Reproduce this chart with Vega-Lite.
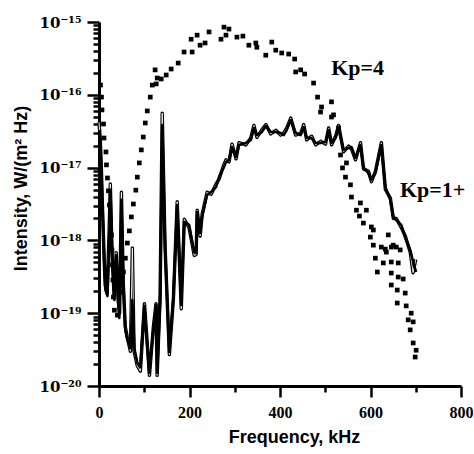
{
  "$schema": "https://vega.github.io/schema/vega-lite/v6.json",
  "width": 362,
  "height": 364,
  "autosize": {"type": "none"},
  "padding": {"left": 99, "top": 22, "right": 13, "bottom": 68},
  "background": "white",
  "datasets": {
    "kp1a": [
      {"f":1,"v":3.28e-17},{"f":3,"v":2.04e-17},{"f":5.5,"v":7.9e-18},{"f":7.7,"v":3.06e-18},{"f":9.9,"v":1.01e-18},{"f":12,"v":4.6e-19},{"f":14.3,"v":2.08e-19},{"f":18.7,"v":1.72e-19},{"f":23,"v":1.3e-18},{"f":25.3,"v":4.9e-18},{"f":29.7,"v":5.05e-19},{"f":34,"v":1.52e-19},{"f":38.5,"v":6.3e-19},{"f":42.9,"v":1.3e-19},{"f":45,"v":8.6e-20},{"f":49.5,"v":3.6e-18},{"f":53.9,"v":2.44e-19},{"f":58.3,"v":5.9e-20},{"f":62.7,"v":4.3e-20},{"f":69.3,"v":3.3e-20},{"f":73.7,"v":1.52e-19},{"f":78.1,"v":3.3e-20},{"f":84.7,"v":2.07e-20},{"f":91.3,"v":1.82e-20},{"f":100,"v":1.26e-19},{"f":111,"v":1.51e-20},{"f":120,"v":5.9e-20},{"f":126.5,"v":1.3e-19},{"f":128.7,"v":1.51e-20},{"f":135.3,"v":1.52e-19},{"f":139.7,"v":3.85e-17},{"f":146.3,"v":7.4e-19},{"f":155.2,"v":2.93e-20},{"f":164,"v":1.52e-19},{"f":172.8,"v":3.06e-18},{"f":181.6,"v":1.3e-19},{"f":188.2,"v":1.79e-18},{"f":199.2,"v":1.63e-18},{"f":210.2,"v":6.9e-19},{"f":214.6,"v":6.8e-19},{"f":216.8,"v":2.45e-18},{"f":223.4,"v":1.26e-18},{"f":227.8,"v":2.1e-18},{"f":238.8,"v":4.2e-18},{"f":247.6,"v":4.6e-18},{"f":258.6,"v":5.4e-18},{"f":265.2,"v":7.4e-18},{"f":276.2,"v":1.02e-17},{"f":280.6,"v":1.19e-17},{"f":287.2,"v":1.27e-17},{"f":293.8,"v":1.92e-17},{"f":302.6,"v":1.4e-17},{"f":309.2,"v":2.04e-17},{"f":324.6,"v":2.18e-17},{"f":335.6,"v":2.4e-17},{"f":342.2,"v":3.5e-17},{"f":348.8,"v":2.8e-17},{"f":359.8,"v":3.08e-17},{"f":368.6,"v":3.72e-17},{"f":379.6,"v":3.08e-17},{"f":390.6,"v":3.08e-17},{"f":401.6,"v":2.99e-17},{"f":408.2,"v":2.8e-17},{"f":414.8,"v":3.28e-17},{"f":423.6,"v":4.5e-17},{"f":434.6,"v":2.99e-17},{"f":445.6,"v":2.8e-17},{"f":452.2,"v":3.6e-17},{"f":458.8,"v":2.55e-17},{"f":469.8,"v":2.55e-17},{"f":478.6,"v":2.18e-17},{"f":489.6,"v":2.18e-17},{"f":500.7,"v":2.25e-17},{"f":507.3,"v":3.28e-17},{"f":513.9,"v":2.18e-17},{"f":522.7,"v":2.55e-17},{"f":529.3,"v":3.5e-17},{"f":540.3,"v":1.75e-17},{"f":551.3,"v":1.86e-17},{"f":557.9,"v":1.92e-17},{"f":566.7,"v":1.36e-17},{"f":577.7,"v":2.04e-17},{"f":584.3,"v":1.02e-17},{"f":595.3,"v":8.4e-18},{"f":601.9,"v":6.8e-18},{"f":610.7,"v":8.4e-18},{"f":623.9,"v":2.04e-17},{"f":632.7,"v":5.4e-18},{"f":643.7,"v":3.6e-18},{"f":650.3,"v":2.1e-18},{"f":656.9,"v":1.9e-18},{"f":667.9,"v":1.63e-18},{"f":676.7,"v":1.08e-18},{"f":687.7,"v":7.4e-19},{"f":696.5,"v":4.45e-19},{"f":700.9,"v":3.68e-19}
    ],
    "kp1b": [
      {"f":0,"v":4.2e-17},{"f":2.5,"v":2.6e-17},{"f":5,"v":1.1e-17},{"f":7.2,"v":3.5e-18},{"f":9.5,"v":1.3e-18},{"f":11.5,"v":5.2e-19},{"f":13.8,"v":2.4e-19},{"f":18,"v":1.9e-19},{"f":22.5,"v":1.4e-18},{"f":25,"v":5.96e-18},{"f":29,"v":6.0e-19},{"f":33.5,"v":1.7e-19},{"f":38,"v":6.8e-19},{"f":42.5,"v":1.45e-19},{"f":45.5,"v":1.0e-19},{"f":49.5,"v":4.6e-18},{"f":53.5,"v":2.7e-19},{"f":58,"v":6.5e-20},{"f":62.5,"v":4.7e-20},{"f":69.5,"v":3.0e-20},{"f":73.7,"v":7.9e-19},{"f":77.5,"v":3.0e-20},{"f":84.5,"v":1.9e-20},{"f":91.5,"v":1.6e-20},{"f":100.5,"v":1.35e-19},{"f":111.5,"v":1.4e-20},{"f":120,"v":6.3e-20},{"f":126,"v":1.35e-19},{"f":128.5,"v":1.4e-20},{"f":135,"v":1.7e-19},{"f":139.7,"v":5.6e-17},{"f":146,"v":8.2e-19},{"f":155.5,"v":2.7e-20},{"f":164.5,"v":1.6e-19},{"f":172.8,"v":3.4e-18},{"f":181.8,"v":1.15e-19},{"f":188.5,"v":1.95e-18},{"f":199,"v":1.5e-18},{"f":210.5,"v":6.2e-19},{"f":214.6,"v":6.4e-19},{"f":217,"v":2.6e-18},{"f":223.6,"v":1.15e-18},{"f":228,"v":2.3e-18},{"f":239,"v":4.6e-18},{"f":247.8,"v":4.3e-18},{"f":258.4,"v":5.9e-18},{"f":265.5,"v":7.0e-18},{"f":276,"v":1.1e-17},{"f":280.8,"v":1.28e-17},{"f":287.5,"v":1.2e-17},{"f":294,"v":2.1e-17},{"f":302.8,"v":1.32e-17},{"f":309.5,"v":2.2e-17},{"f":324.4,"v":2.05e-17},{"f":335.4,"v":2.55e-17},{"f":342.4,"v":3.8e-17},{"f":349,"v":2.6e-17},{"f":360,"v":3.3e-17},{"f":368.8,"v":3.9e-17},{"f":379.4,"v":2.9e-17},{"f":390.8,"v":3.25e-17},{"f":401.4,"v":2.8e-17},{"f":408.4,"v":3.0e-17},{"f":415,"v":3.5e-17},{"f":423.8,"v":4.8e-17},{"f":434.4,"v":2.8e-17},{"f":445.8,"v":2.95e-17},{"f":452.4,"v":3.9e-17},{"f":459,"v":2.4e-17},{"f":470,"v":2.7e-17},{"f":478.8,"v":2.05e-17},{"f":489.8,"v":2.3e-17},{"f":500.5,"v":2.1e-17},{"f":507.5,"v":3.5e-17},{"f":514,"v":2.05e-17},{"f":522.9,"v":2.7e-17},{"f":529.5,"v":3.8e-17},{"f":540.5,"v":1.65e-17},{"f":551.5,"v":1.98e-17},{"f":558,"v":1.8e-17},{"f":566.9,"v":1.28e-17},{"f":577.9,"v":2.2e-17},{"f":584.5,"v":9.6e-18},{"f":595.5,"v":8.9e-18},{"f":602.1,"v":6.4e-18},{"f":610.9,"v":8.9e-18},{"f":624.1,"v":2.2e-17},{"f":632.9,"v":5.0e-18},{"f":643.9,"v":3.8e-18},{"f":650.5,"v":2.0e-18},{"f":657.1,"v":2.0e-18},{"f":668.1,"v":1.5e-18},{"f":676.9,"v":1.15e-18},{"f":687.9,"v":6.8e-19},{"f":694,"v":3.6e-19},{"f":700,"v":5.5e-19}
    ],
    "kp4": [
      {"f":3.3,"v":1.36e-16},{"f":5.5,"v":9.3e-17},{"f":6.6,"v":6.2e-17},{"f":9.9,"v":3.97e-17},{"f":11,"v":2.55e-17},{"f":15.4,"v":1.64e-17},{"f":16.5,"v":1.09e-17},{"f":18.7,"v":7.2e-18},{"f":20.9,"v":4.8e-18},{"f":23,"v":3.06e-18},{"f":25.3,"v":1.9e-18},{"f":27.5,"v":1.19e-18},{"f":28.6,"v":7.4e-19},{"f":29.7,"v":4.6e-19},{"f":30.8,"v":2.86e-19},{"f":31.9,"v":1.67e-19},{"f":34,"v":1.1e-19},{"f":40.7,"v":9.4e-20},
      {"f":47.3,"v":1.95e-19},{"f":50.6,"v":2.6e-19},{"f":53.9,"v":3.68e-19},{"f":58.3,"v":5.7e-19},{"f":62.7,"v":9.2e-19},{"f":67.1,"v":1.35e-18},{"f":71.5,"v":2.1e-18},{"f":75.9,"v":3.16e-18},{"f":81.4,"v":4.9e-18},{"f":84.7,"v":7.4e-18},{"f":89.1,"v":1.16e-17},{"f":93.5,"v":1.75e-17},{"f":97.9,"v":2.63e-17},{"f":102.3,"v":4.1e-17},{"f":106.7,"v":6.0e-17},{"f":113.3,"v":9.3e-17},{"f":117.7,"v":1.36e-16},{"f":126.5,"v":1.41e-16},{"f":128.7,"v":1.7e-16},{"f":137.5,"v":1.65e-16},{"f":124,"v":2.2e-16},{"f":148.5,"v":1.87e-16},{"f":159.5,"v":2.26e-16},{"f":175,"v":2.73e-16},{"f":188,"v":3.87e-16},{"f":205.8,"v":3.87e-16},{"f":203.6,"v":5.8e-16},{"f":216.8,"v":6.6e-16},{"f":223.4,"v":4.8e-16},{"f":234.4,"v":5.15e-16},{"f":243.2,"v":7.3e-16},{"f":269.6,"v":5.8e-16},{"f":276.2,"v":8.5e-16},{"f":287.2,"v":8.0e-16},{"f":280.6,"v":6.6e-16},{"f":304.8,"v":6.2e-16},{"f":318,"v":6.4e-16},{"f":331.2,"v":4.8e-16},{"f":346.6,"v":5.15e-16},{"f":348.8,"v":4.5e-16},{"f":368.6,"v":3.5e-16},{"f":381.8,"v":5.3e-16},{"f":390.6,"v":4.1e-16},{"f":403.8,"v":3.75e-16},{"f":419.2,"v":3.63e-16},{"f":432.4,"v":3.1e-16},{"f":434.6,"v":2.06e-16},{"f":445.6,"v":2.2e-16},{"f":454.4,"v":1.93e-16},{"f":474.2,"v":1.45e-16},{"f":483,"v":9.3e-17},{"f":491.8,"v":6.8e-17},{"f":489.6,"v":5.8e-17},{"f":513.8,"v":8.0e-17},{"f":513.8,"v":4.95e-17},{"f":529.3,"v":3.5e-17},{"f":518.3,"v":5.3e-17},{"f":533.7,"v":1.49e-17},{"f":546.9,"v":1.16e-17},{"f":538.1,"v":9.9e-18},{"f":544.7,"v":7.4e-18},{"f":555.7,"v":5.8e-18},{"f":557.9,"v":3.94e-18},{"f":577.7,"v":3.27e-18},{"f":568.9,"v":2.6e-18},{"f":590.9,"v":2.6e-18},{"f":575.5,"v":2.16e-18},{"f":584.3,"v":1.73e-18},{"f":601.9,"v":1.53e-18},{"f":606.3,"v":1.39e-18},{"f":599.7,"v":1.11e-18},{"f":623.9,"v":8.1e-19},{"f":639.3,"v":1.19e-18},{"f":646,"v":8.1e-19},{"f":635,"v":6.9e-19},{"f":657,"v":8.1e-19},{"f":606.3,"v":8.6e-19},{"f":632.7,"v":7.6e-19},{"f":650.3,"v":8.6e-19},{"f":665.7,"v":7.4e-19},{"f":610.7,"v":5.7e-19},{"f":628.3,"v":4.9e-19},{"f":645.9,"v":5.05e-19},{"f":661.3,"v":4.9e-19},{"f":615.1,"v":3.68e-19},{"f":645.9,"v":3.56e-19},{"f":661.3,"v":3.14e-19},{"f":672.3,"v":2.95e-19},{"f":645.9,"v":2.44e-19},{"f":659.1,"v":2.08e-19},{"f":676.7,"v":1.89e-19},{"f":659.1,"v":1.38e-19},{"f":678.9,"v":1.26e-19},{"f":689.9,"v":1.0e-19},{"f":683.3,"v":8.1e-20},{"f":694.3,"v":7.6e-20},{"f":687.7,"v":5.9e-20},{"f":694.3,"v":3.9e-20},{"f":700.9,"v":3.1e-20},{"f":698.7,"v":2.5e-20}
    ],
    "labels": [
      {"f":513,"v":1.87e-16,"t":"Kp=4"},
      {"f":665,"v":3.9e-18,"t":"Kp=1+"}
    ]
  },
  "encoding": {
    "x": {
      "field": "f", "type": "quantitative",
      "scale": {"domain": [0, 800], "nice": false, "zero": false},
      "axis": {
        "title": "Frequency, kHz",
        "values": [0,100,200,300,400,500,600,700,800],
        "labelExpr": "datum.value % 200 === 0 ? datum.label : ''",
        "tickSize": {"condition": {"test": "datum.value % 200 === 0", "value": 11}, "value": 6},
        "labelFont": "Liberation Serif",
        "labelFontWeight": "bold",
        "labelFontSize": 16,
        "labelPadding": 7,
        "labelFlush": false,
        "labelOverlap": false,
        "titleX": 195,
        "titleY": 56,
        "titleBaseline": "alphabetic"
      }
    },
    "y": {
      "field": "v", "type": "quantitative",
      "scale": {"type": "log", "domain": [1e-20, 1e-15], "nice": false},
      "axis": {
        "title": "Intensity, W/(m² Hz)",
        "values": [1e-20,2e-20,3e-20,4e-20,5e-20,6e-20,7e-20,8e-20,9e-20,1e-19,2e-19,3e-19,4e-19,5e-19,6e-19,7e-19,8e-19,9e-19,1e-18,2e-18,3e-18,4e-18,5e-18,6e-18,7e-18,8e-18,9e-18,1e-17,2e-17,3e-17,4e-17,5e-17,6e-17,7e-17,8e-17,9e-17,1e-16,2e-16,3e-16,4e-16,5e-16,6e-16,7e-16,8e-16,9e-16,1e-15],
        "labelExpr": "abs(log(datum.value)/LN10 - round(log(datum.value)/LN10)) < 0.01 ? (round(log(datum.value)/LN10) == -15 ? '10⁻¹⁵' : round(log(datum.value)/LN10) == -16 ? '10⁻¹⁶' : round(log(datum.value)/LN10) == -17 ? '10⁻¹⁷' : round(log(datum.value)/LN10) == -18 ? '10⁻¹⁸' : round(log(datum.value)/LN10) == -19 ? '10⁻¹⁹' : '10⁻²⁰') : ''",
        "tickSize": {"condition": {"test": "abs(log(datum.value)/LN10 - round(log(datum.value)/LN10)) < 0.01", "value": 12}, "value": 6},
        "labelFont": "DejaVu Serif",
        "labelFontWeight": "bold",
        "labelFontSize": 15,
        "labelPadding": 6,
        "labelOverlap": false,
        "labelFlush": false,
        "titleX": -73,
        "titleY": 166,
        "titleAngle": -90,
        "titleAlign": "center",
        "titleBaseline": "alphabetic"
      }
    }
  },
  "layer": [
    {"data": {"name": "kp1b"}, "mark": {"type": "line", "color": "black", "strokeWidth": 3.4, "strokeJoin": "round"}, "encoding": {}},
    {"data": {"name": "kp1b"}, "mark": {"type": "line", "color": "white", "strokeWidth": 0.9, "strokeJoin": "round"}, "encoding": {}},
    {"data": {"name": "kp1a"}, "mark": {"type": "line", "color": "black", "strokeWidth": 2.6, "strokeJoin": "round"}, "encoding": {}},
    {"data": {"name": "kp4"}, "mark": {"type": "point", "shape": "square", "filled": true, "size": 22, "color": "black", "opacity": 1}},
    {"data": {"name": "labels"}, "mark": {"type": "text", "font": "Liberation Serif", "fontWeight": "bold", "fontSize": 22, "align": "left", "baseline": "alphabetic", "color": "black"}, "encoding": {"text": {"field": "t"}}}
  ],
  "config": {
    "view": {"stroke": null},
    "axis": {
      "grid": false,
      "domainColor": "black",
      "domainWidth": 3,
      "tickColor": "black",
      "tickWidth": 2.5,
      "labelColor": "black",
      "titleFont": "Liberation Sans",
      "titleFontWeight": "bold",
      "titleFontSize": 18,
      "titleColor": "black"
    }
  }
}
